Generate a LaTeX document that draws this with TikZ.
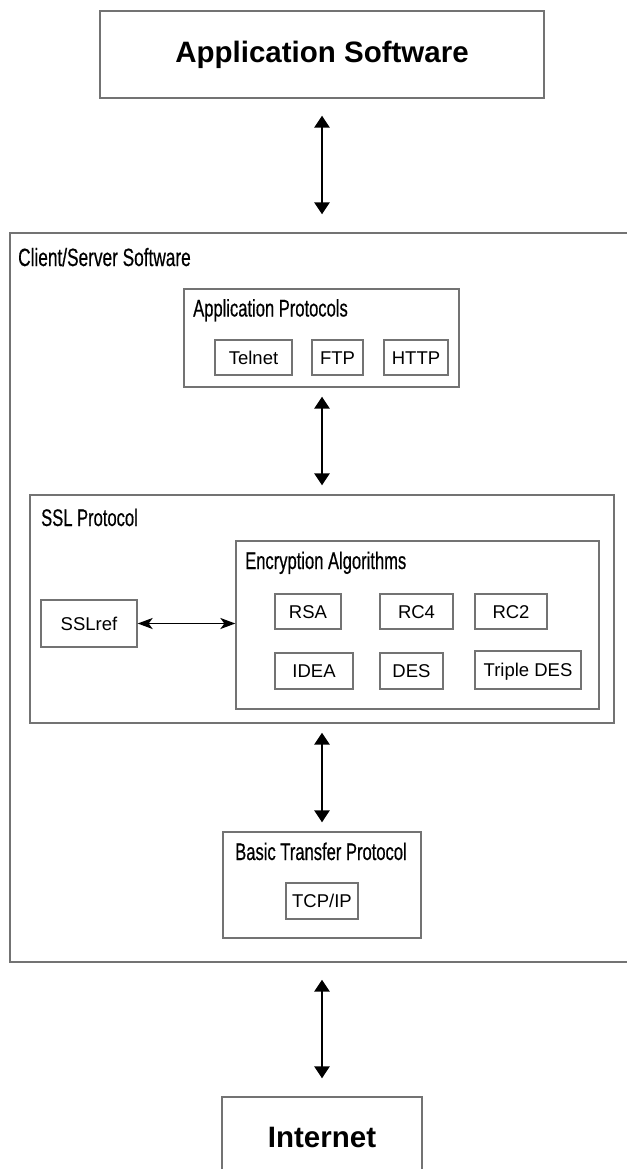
\documentclass[tikz,border=0pt]{standalone}
\usepackage{fontspec}
\setmainfont{Liberation Sans}
\newfontfamily\condf[FakeStretch=0.69,FakeBold=0.5]{Liberation Sans}
\usetikzlibrary{arrows.meta}
\tikzset{
  box/.style={draw=black!55, line width=1.3pt, inner sep=0pt, fill=none},
  item/.style={box, font=\fontsize{18.5}{20}\selectfont, text height=13.2pt, text depth=0pt},
  lab/.style={inner sep=0pt, font=\condf\fontsize{24}{26}\selectfont},
  big/.style={inner sep=0pt, font=\bfseries\fontsize{29.5}{32}\selectfont},
  vlink/.style={line width=2.6pt, {Triangle[width=15pt,length=12pt]}-{Triangle[width=15pt,length=12pt]}},
  hlink/.style={line width=1.8pt, {Stealth[width=11pt,length=15pt,inset=4pt]}-{Stealth[width=11pt,length=15pt,inset=4pt]}}
}
\begin{document}
\begin{tikzpicture}[x=1pt,y=-1pt]
\useasboundingbox (0,0) rectangle (626,1169);
% top box
\node[box, minimum width=444pt, minimum height=87pt] (app) at (322,54.5) {};
\node[big, anchor=base] (apptxt) at (322,63) {Application Software};
% client/server container (right edge off page)
\node[box, minimum width=624pt, minimum height=729pt] (cs) at (322,597.5) {};
\node[lab, anchor=base west, font=\condf\fontsize{25}{27}\selectfont] (cslab) at (18,266) {Client/Server Software};
% application protocols
\node[box, minimum width=275pt, minimum height=98pt] (ap) at (321.5,338) {};
\node[lab, anchor=base west] (aplab) at (193,316.5) {Application Protocols};
\node[item, minimum width=77pt, minimum height=35pt] (telnet) at (253.5,357.5) {Telnet};
\node[item, minimum width=51pt, minimum height=35pt] (ftp) at (337.5,357.5) {FTP};
\node[item, minimum width=64pt, minimum height=35pt] (http) at (416,357.5) {HTTP};
% SSL protocol
\node[box, minimum width=584pt, minimum height=228pt] (ssl) at (322,609) {};
\node[lab, anchor=base west] (ssllab) at (41,526) {SSL Protocol};
\node[box, minimum width=363pt, minimum height=168pt] (enc) at (417.5,625) {};
\node[lab, anchor=base west] (enclab) at (245,569) {Encryption Algorithms};
\node[item, minimum width=96pt, minimum height=47pt] (sslref) at (89,623.5) {SSLref};
\node[item, minimum width=66pt, minimum height=35pt] (rsa) at (308,611.5) {RSA};
\node[item, minimum width=73pt, minimum height=35pt] (rc4) at (416.5,611.5) {RC4};
\node[item, minimum width=72pt, minimum height=35pt] (rc2) at (511,611.5) {RC2};
\node[item, minimum width=78pt, minimum height=36pt] (idea) at (314,671) {IDEA};
\node[item, minimum width=63pt, minimum height=36pt] (des) at (411.5,671) {DES};
\node[item, minimum width=106pt, minimum height=38pt] (tdes) at (528,670) {Triple DES};
% basic transfer protocol
\node[box, minimum width=198pt, minimum height=106pt] (btp) at (322,885) {};
\node[lab, anchor=base] (btplab) at (321,860) {Basic Transfer Protocol};
\node[item, minimum width=72pt, minimum height=36pt] (tcp) at (322,901) {TCP/IP};
% internet
\node[box, minimum width=200pt, minimum height=80pt] (inet) at (322,1137) {};
\node[big, anchor=base] (inettxt) at (322,1147) {Internet};
% connectors
\draw[vlink, shorten <=17pt, shorten >=18pt] (app.south) -- (app.south |- cs.north);
\draw[vlink, shorten <=9pt, shorten >=9pt] (app.south |- ap.south) -- (app.south |- ssl.north);
\draw[vlink, shorten <=9pt, shorten >=9pt] (app.south |- ssl.south) -- (app.south |- btp.north);
\draw[vlink, shorten <=17pt, shorten >=18pt] (app.south |- cs.south) -- (app.south |- inet.north);
\draw[hlink] (sslref.east) -- (sslref.east -| enc.west);
\end{tikzpicture}
\end{document}
